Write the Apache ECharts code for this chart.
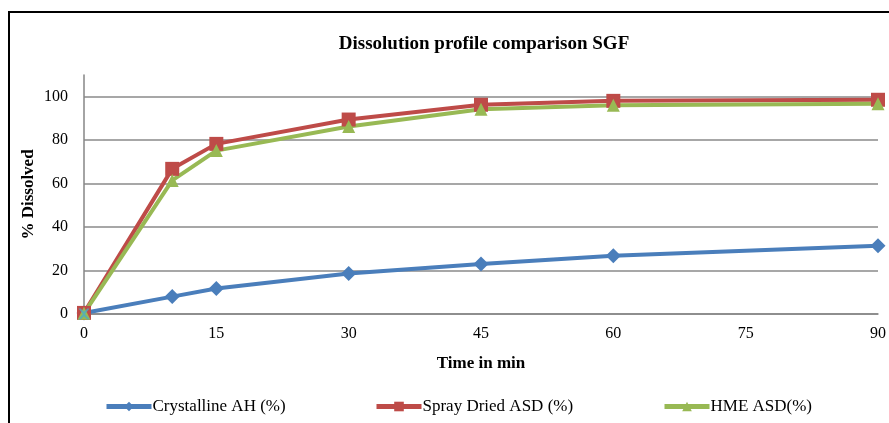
<!DOCTYPE html>
<html>
<head>
<meta charset="utf-8">
<script src="https://cdn.jsdelivr.net/npm/echarts@6/dist/echarts.min.js"></script>
<style>
  html, body { margin: 0; padding: 0; background: #fff; }
  #chart { width: 889px; height: 423px; }
</style>
</head>
<body>
<div id="chart"></div>
<script>
// Sampling times (min)
const times = [0, 10, 15, 30, 45, 60, 90];
// % dissolved at each sampling time
const crystallineAH = [0.5, 8, 11.7, 18.6, 23, 26.8, 31.4];
const sprayDriedASD = [0.5, 66.8, 78.3, 89.5, 96.3, 98.1, 98.6];
const hmeASD = [0.3, 61.5, 75.2, 86.3, 94.2, 96.1, 96.8];
// Extra marker sitting on the origin
const originMarker = [[0, 0]];

const seriesNames = ['Crystalline AH (%)', 'Spray Dried ASD (%)', 'HME ASD(%)'];
const xTicks = [0, 15, 30, 45, 60, 75, 90];
const yTicks = [0, 20, 40, 60, 80, 100];

const pair = (vals) => times.map((t, i) => [t, vals[i]]);
const font = '"Liberation Serif", "Times New Roman", serif';

const chart = echarts.init(document.getElementById('chart'), null, { renderer: 'canvas' });

function lineSeries(name, vals, color, symbol, size) {
  return {
    name: name,
    type: 'line',
    data: pair(vals),
    symbol: symbol,
    symbolSize: size,
    showAllSymbol: true,
    lineStyle: { color: color, width: 4 },
    itemStyle: { color: color },
    emphasis: { disabled: true },
    animation: false
  };
}

function legendAt(name, left) {
  return {
    data: [name],
    left: left,
    top: 393,
    itemWidth: 45,
    itemHeight: 12,
    itemGap: 2,
    lineStyle: { width: 5 },
    textStyle: { fontFamily: font, fontSize: 17, color: '#000', padding: [0, 0, 0, -4] },
    selectedMode: false
  };
}

chart.setOption({
  backgroundColor: '#fff',
  animation: false,
  title: {
    text: 'Dissolution profile comparison SGF',
    left: 479,
    top: 30,
    textAlign: 'center',
    textStyle: { fontFamily: font, fontSize: 19, fontWeight: 'bold', color: '#000' }
  },
  graphic: [{
    type: 'rect',
    shape: { x: 9, y: 12, width: 1000, height: 600 },
    style: { fill: null, stroke: '#000', lineWidth: 2 },
    silent: true
  }],
  legend: [
    legendAt(seriesNames[0], 99),
    legendAt(seriesNames[1], 369),
    legendAt(seriesNames[2], 657)
  ],
  grid: { left: 84, right: 10, top: 75, bottom: 109, containLabel: false },
  xAxis: {
    type: 'value',
    min: xTicks[0],
    max: xTicks[xTicks.length - 1],
    interval: 15,
    name: 'Time in min',
    nameLocation: 'middle',
    nameGap: 41,
    nameTextStyle: { fontFamily: font, fontSize: 17, fontWeight: 'bold', color: '#000' },
    axisLine: { show: true, lineStyle: { color: '#868686', width: 1.5 } },
    axisTick: { show: false },
    axisLabel: { fontFamily: font, fontSize: 16, color: '#000', margin: 12 },
    splitLine: { show: false }
  },
  yAxis: {
    type: 'value',
    min: yTicks[0],
    max: 110,
    interval: 20,
    name: '% Dissolved',
    nameLocation: 'middle',
    nameGap: 47,
    nameMoveOverlap: false,
    nameRotate: 90,
    nameTextStyle: { fontFamily: font, fontSize: 17, fontWeight: 'bold', color: '#000' },
    axisLine: { show: true, onZero: false, lineStyle: { color: '#868686', width: 1.5 } },
    axisTick: { show: false },
    axisLabel: { fontFamily: font, fontSize: 16, color: '#000', margin: 16, showMaxLabel: false },
    splitLine: { show: true, showMaxLine: false, lineStyle: { color: '#8a8a8a', width: 1.5 } }
  },
  series: [
    lineSeries(seriesNames[0], crystallineAH, '#4A7EBB', 'diamond', 15),
    lineSeries(seriesNames[1], sprayDriedASD, '#BE4B48', 'rect', 14),
    lineSeries(seriesNames[2], hmeASD, '#98B954', 'triangle', 13),
    {
      name: 'origin',
      type: 'scatter',
      data: originMarker,
      symbol: 'path://M0,0 L2,0 L5,3 L8,0 L10,0 L6,5 L10,10 L8,10 L5,7 L2,10 L0,10 L4,5 Z',
      symbolSize: 11,
      itemStyle: { color: '#4BACC6' },
      silent: true,
      z: 5
    }
  ]
});
</script>
</body>
</html>
